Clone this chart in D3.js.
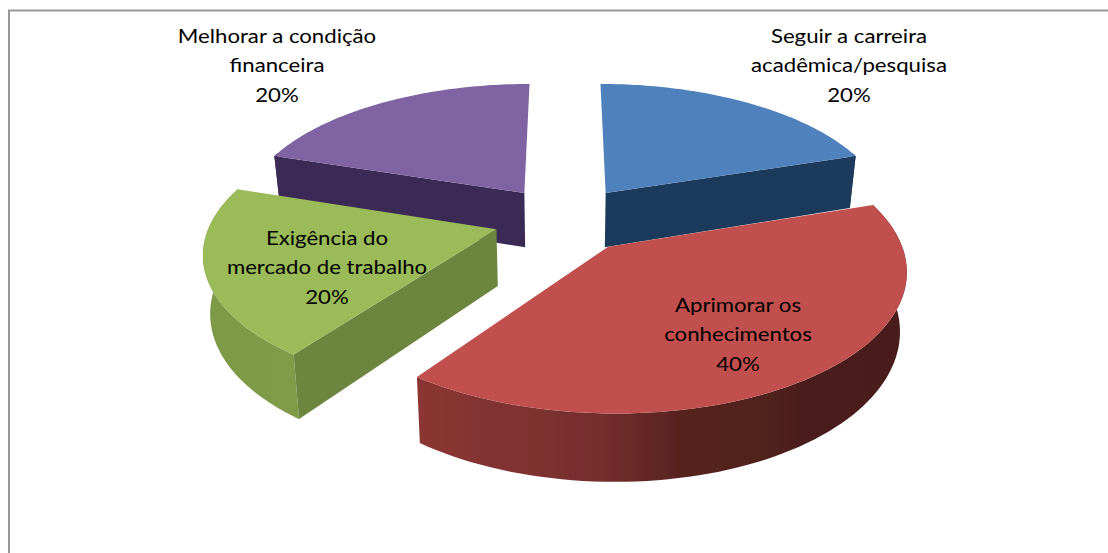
<!DOCTYPE html>
<html><head><meta charset="utf-8">
<script src="https://cdn.jsdelivr.net/npm/d3@7"></script>
<style>html,body{margin:0;padding:0;background:#fff}svg{display:block}</style>
</head><body><div id="c"></div>
<script>
const categories = ["Seguir a carreira acadêmica/pesquisa","Aprimorar os conhecimentos","Exigência do mercado de trabalho","Melhorar a condição financeira"];
const values = [20, 40, 20, 20];
const labelLines = [["Seguir a carreira","acadêmica/pesquisa","20%"],["Aprimorar os","conhecimentos","40%"],["Exigência do","mercado de trabalho","20%"],["Melhorar a condição","financeira","20%"]];
const topColors = ["#4f81bd","#c0504d","#9bbb59","#8064a2"];
const cutColors = ["#1f3a5c","#7a2f2d","#6c8640","#3b2b55"];
const labelAnchors = [[849,43],[738,312],[327,245],[277,43]];

const W = 1108, H = 553;
const svg = d3.select("#c").append("svg").attr("width",W).attr("height",H);
const defs = svg.append("defs");
defs.append("filter").attr("id","soft").attr("x","-5%").attr("y","-5%").attr("width","110%").attr("height","110%")
  .append("feGaussianBlur").attr("stdDeviation",0.5);
svg.append("path").attr("d",`M9,${H}V10.5H${W}`).attr("fill","none").attr("stroke","#979797").attr("stroke-width",2);

// camera model of the tilted pie
const Cx=565, Cy=219, Rx=285, Ry=132.6, persp=0.15, explode=0.25, depth=56, bottomShrink=0.98;
const pie = d3.pie().sort(null).value(d=>d);
const arcs = pie(values);

function project(arc, a, r, bottom){
  const m=(arc.startAngle+arc.endAngle)/2;
  const X=r*Math.sin(a)+explode*Math.sin(m);
  const Y=-r*Math.cos(a)-explode*Math.cos(m);
  const s=1/(1-persp*Y);
  let x=Cx+X*Rx*s, y=Cy+Y*Ry*s;
  if(bottom){ x=Cx+(x-Cx)*bottomShrink; y+=depth*s; }
  return [x,y];
}
const line=d3.line();
function rim(arc,bottom){
  const n=80;
  return d3.range(n+1).map(i=>arc.startAngle+(arc.endAngle-arc.startAngle)*i/n)
    .map(a=>({a,p:project(arc,a,1,bottom)}));
}
function gradient(id,stops){
  const g=defs.append("linearGradient").attr("id",id).attr("gradientUnits","userSpaceOnUse")
    .attr("x1",stops[0][0]).attr("x2",stops[stops.length-1][0]).attr("y1",0).attr("y2",0);
  const x0=stops[0][0],x1=stops[stops.length-1][0];
  stops.forEach(s=>g.append("stop").attr("offset",(s[0]-x0)/(x1-x0)).attr("stop-color",s[1]));
  return `url(#${id})`;
}
const wallFills=[
  "#1f3a5c",
  gradient("wr",[[417,"#8c3634"],[600,"#752e2c"],[680,"#58231f"],[800,"#4c1f1b"],[910,"#4a1d1a"]]),
  gradient("wg",[[200,"#7d9946"],[300,"#809c48"]]),
  "#3b2b55"
];

const pieLayer=svg.append("g").attr("filter","url(#soft)");
const drawOrder=[0,3,2,1];
drawOrder.forEach(i=>{
  const arc=arcs[i];
  const g=pieLayer.append("g");
  const topRim=rim(arc,false), botRim=rim(arc,true);
  const front=r=>r.filter(d=>Math.cos(d.a)<0.34).map(d=>d.p);
  const ft=front(topRim), fb=front(botRim);
  if(ft.length>1) g.append("path").attr("d",line(ft.concat(fb.slice().reverse()))+"Z").attr("fill",wallFills[i]);
  const apexT=project(arc,0,0,false), apexB=project(arc,0,0,true);
  const last=topRim.length-1;
  if(Math.sin(arc.startAngle)<-1e-6){
    g.append("path").attr("d",line([apexT,topRim[0].p,botRim[0].p,apexB])+"Z").attr("fill",cutColors[i]);
  }
  if(Math.sin(arc.endAngle)>1e-6){
    g.append("path").attr("d",line([apexT,topRim[last].p,botRim[last].p,apexB])+"Z").attr("fill",cutColors[i]);
  }
  g.append("path").attr("d",line([apexT].concat(topRim.map(d=>d.p)))+"Z").attr("fill",topColors[i]);
});

labelLines.forEach((lines,i)=>{
  const t=svg.append("g").attr("aria-label",categories[i]);
  lines.forEach((l,j)=>t.append("text").attr("text-anchor","middle")
    .attr("font-family","Lato, Carlito, sans-serif").attr("font-size",20).attr("fill","#000")
    .attr("transform",`translate(${labelAnchors[i][0]},${labelAnchors[i][1]+j*29.4}) scale(1.11,1)`).text(l));
});
</script></body></html>
